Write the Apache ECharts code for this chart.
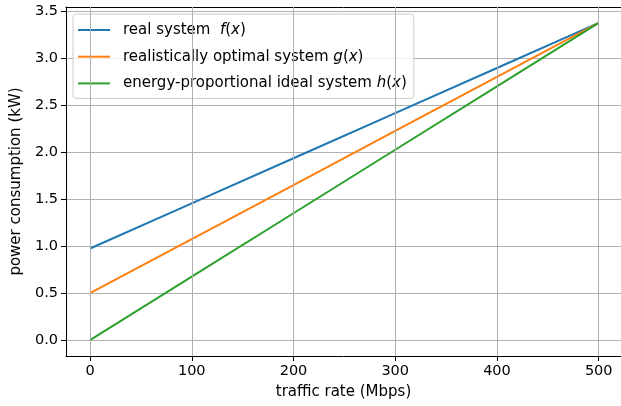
<!DOCTYPE html>
<html>
<head>
<meta charset="utf-8">
<script src="https://cdn.jsdelivr.net/npm/echarts@6/dist/echarts.min.js"></script>
<style>html,body{margin:0;padding:0;background:#fff;overflow:hidden}#c{width:621px;height:406px}</style>
</head>
<body>
<div id="c"></div>
<script>
var trafficRate = [0, 100, 200, 300, 400, 500];
var realSystem = [0.975, 1.455, 1.935, 2.415, 2.895, 3.375];
var optimalSystem = [0.5, 1.075, 1.65, 2.225, 2.8, 3.375];
var idealSystem = [0, 0.675, 1.35, 2.025, 2.7, 3.375];
var xTicks = [0, 100, 200, 300, 400, 500];
var yTicks = [0, 0.5, 1.0, 1.5, 2.0, 2.5, 3.0, 3.5];
var seriesNames = ['real system', 'realistically optimal system', 'energy-proportional ideal system'];
var colors = ['#1f77b4', '#ff7f0e', '#2ca02c'];

function pairs(xs, ys) { return xs.map(function (x, i) { return [x, ys[i]]; }); }

var FONT = 'DejaVu Sans';
var XMIN = -23.6, XMAX = 521.9;
var chart = echarts.init(document.getElementById('c'), null, {renderer: 'canvas'});
var legendRich = {
  n: {fontFamily: FONT, fontSize: 15, color: '#000'},
  i: {fontFamily: FONT, fontSize: 15, fontStyle: 'italic', color: '#000'}
};
chart.setOption({
  animation: false,
  color: colors,
  grid: {left: 66, top: 7, right: 0, bottom: 50, show: false},
  legend: {
    orient: 'vertical', left: 73, top: 14,
    backgroundColor: 'rgba(255,255,255,0.8)', borderColor: '#cccccc', borderWidth: 1, borderRadius: 3,
    padding: [7.5, 7, 6.5, 5],
    itemWidth: 32, itemHeight: 2, itemGap: 9.7, icon: 'rect',
    textStyle: {fontFamily: FONT, fontSize: 15, lineHeight: 17, padding: [0, 0, 0, 8], rich: legendRich},
    formatter: function (name) {
      if (name === seriesNames[0]) return '{n|real system  }{i|f}{n|(}{i|x}{n|)}';
      if (name === seriesNames[1]) return '{n|realistically optimal system }{i|g}{n|(}{i|x}{n|)}';
      return '{n|energy-proportional ideal system }{i|h}{n|(}{i|x}{n|)}';
    },
    data: seriesNames
  },
  xAxis: [{
    type: 'value', min: XMIN, max: XMAX,
    name: 'traffic rate (Mbps)', nameLocation: 'middle', nameGap: 29,
    nameTextStyle: {fontFamily: FONT, fontSize: 15, color: '#000'},
    axisLine: {show: true, onZero: false, lineStyle: {color: '#000', width: 1}},
    axisTick: {show: true, length: 5, customValues: xTicks, lineStyle: {color: '#000'}},
    axisLabel: {customValues: xTicks, margin: 8, fontFamily: FONT, fontSize: 14.5, color: '#000'},
    splitLine: {show: false}
  }, {
    type: 'value', min: XMIN, max: XMAX, position: 'top',
    axisLine: {show: true, onZero: false, lineStyle: {color: '#000', width: 1}},
    axisTick: {show: false}, axisLabel: {show: false}, splitLine: {show: false}
  }],
  yAxis: {
    type: 'value', min: -0.16875, max: 3.54375,
    name: 'power consumption (kW)', nameLocation: 'middle', nameGap: 41,
    nameTextStyle: {fontFamily: FONT, fontSize: 15, color: '#000'},
    axisLine: {show: true, onZero: false, lineStyle: {color: '#000', width: 1}},
    axisTick: {show: true, length: 5, customValues: yTicks, lineStyle: {color: '#000'}},
    axisLabel: {customValues: yTicks, margin: 8, fontFamily: FONT, fontSize: 14.5, color: '#000',
      formatter: function (v) { return v.toFixed(1); }},
    splitLine: {show: true, lineStyle: {color: '#b0b0b0', width: 1}}
  },
  series: [
    {name: 'xgrid', type: 'line', data: [], z: 0, silent: true,
      markLine: {silent: true, symbol: 'none', animation: false, label: {show: false},
        lineStyle: {color: '#b0b0b0', width: 1, type: 'solid'},
        emphasis: {disabled: true},
        data: xTicks.map(function (v) { return {xAxis: v}; })}},
    {name: seriesNames[0], type: 'line', data: pairs(trafficRate, realSystem), showSymbol: false, lineStyle: {width: 2}, color: colors[0]},
    {name: seriesNames[1], type: 'line', data: pairs(trafficRate, optimalSystem), showSymbol: false, lineStyle: {width: 2}, color: colors[1]},
    {name: seriesNames[2], type: 'line', data: pairs(trafficRate, idealSystem), showSymbol: false, lineStyle: {width: 2}, color: colors[2]}
  ]
});
</script>
</body>
</html>
